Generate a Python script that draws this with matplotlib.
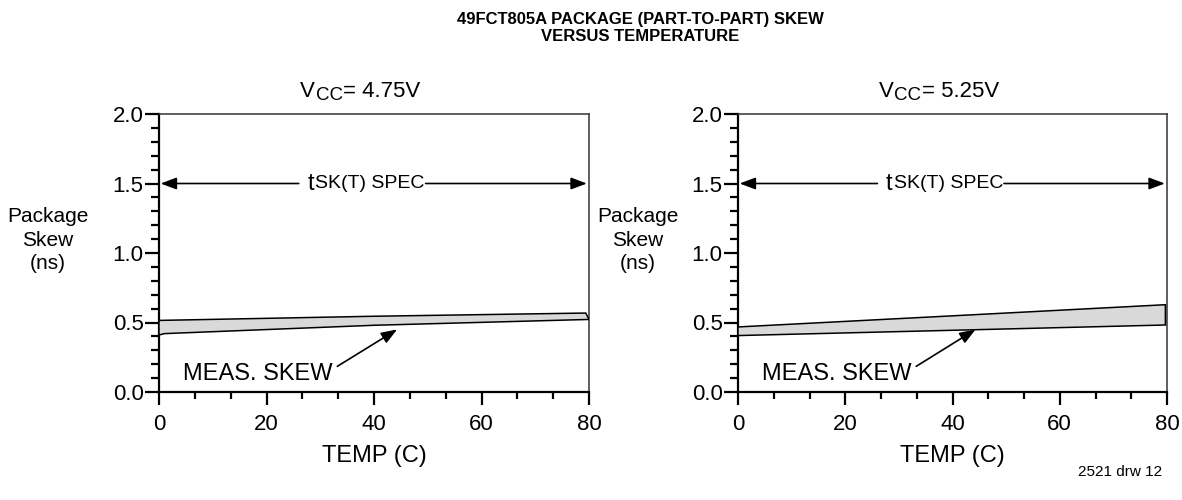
import matplotlib
matplotlib.use("Agg")
import matplotlib.pyplot as plt
from matplotlib.ticker import MultipleLocator

plt.rcParams['font.family'] = ['Liberation Sans', 'DejaVu Sans']

# ---- data ----
temp_ticks = [0, 20, 40, 60, 80]
skew_ticks = [0.0, 0.5, 1.0, 1.5, 2.0]
spec_x = [0, 80]
spec_level = 1.5

vcc_labels = ["4.75V", "5.25V"]
# measured skew band (upper and lower edges)
upper_x_1 = [0, 40, 79.4]
upper_y_1 = [0.515, 0.545, 0.568]
lower_x_1 = [0, 1, 40, 80]
lower_y_1 = [0.41, 0.42, 0.48, 0.522]

upper_x_2 = [0, 40, 79.7]
upper_y_2 = [0.468, 0.548, 0.628]
lower_x_2 = [0, 40, 79.7]
lower_y_2 = [0.406, 0.444, 0.482]

bands = [(upper_x_1, upper_y_1, lower_x_1, lower_y_1),
         (upper_x_2, upper_y_2, lower_x_2, lower_y_2)]

W, H = 1182, 500
fig = plt.figure(figsize=(W / 100, H / 100), dpi=100)

ax_px = [(159, 589), (738, 1167)]
ylabel_px = [48, 638]
top_px, bot_px = 114, 392

for i, ((x0, x1), (ux, uy, lx, ly)) in enumerate(zip(ax_px, bands)):
    ax = fig.add_axes([x0 / W, 1 - bot_px / H, (x1 - x0) / W, (bot_px - top_px) / H])
    ax.set_xlim(0, 80)
    ax.set_ylim(0, 2.0)
    ax.set_xticks(temp_ticks)
    ax.set_xticklabels([str(t) for t in temp_ticks])
    ax.set_yticks(skew_ticks)
    ax.set_yticklabels([f"{v:.1f}" for v in skew_ticks])
    ax.xaxis.set_minor_locator(MultipleLocator(20 / 3))
    ax.yaxis.set_minor_locator(MultipleLocator(0.1))
    ax.tick_params(axis='y', which='major', direction='out', length=10, width=1.6,
                   labelsize=16, pad=1, colors='black')
    ax.tick_params(axis='y', which='minor', direction='out', length=5.5, width=1.6)
    ax.tick_params(axis='x', which='major', direction='out', length=9, width=1.6,
                   labelsize=16, pad=7)
    ax.tick_params(axis='x', which='minor', direction='out', length=5, width=1.6)
    for s in ['left', 'bottom']:
        ax.spines[s].set_linewidth(1.6)
        ax.spines[s].set_color('black')
    for s in ['top', 'right']:
        ax.spines[s].set_linewidth(1.1)
        ax.spines[s].set_color('#333333')

    # band
    px = list(ux) + list(lx[::-1])
    py = list(uy) + list(ly[::-1])
    ax.fill(px, py, facecolor='#d9d9d9', edgecolor='black', linewidth=1.1, zorder=3)

    ax.set_xlabel("TEMP (C)", fontsize=17, labelpad=7)

    # y label
    fig.text(ylabel_px[i] / W, 1 - 240 / H, "Package\nSkew\n(ns)",
             ha='center', va='center', fontsize=15, linespacing=1.3)

    # Vcc title
    tv = ax.text(0.328, 1.042, "V", transform=ax.transAxes, fontsize=16,
                 ha='left', va='bottom')
    ax.annotate("CC", xy=(1, 0), xycoords=tv, xytext=(0.5, -1.5),
                textcoords='offset points', fontsize=13.5, ha='left', va='bottom')
    ax.annotate("= " + vcc_labels[i], xy=(1, 0), xycoords=tv, xytext=(20.5, 0),
                textcoords='offset points', fontsize=16, ha='left', va='bottom')

    # spec arrow
    tt = ax.text(0.345, spec_level, "t", transform=ax.get_yaxis_transform(),
                 fontsize=17, ha='left', va='center')
    ax.annotate("SK(T) SPEC", xy=(1, 0), xycoords=tt, xytext=(1, 2),
                textcoords='offset points', fontsize=14, ha='left', va='bottom')
    ap = dict(arrowstyle='-|>,head_length=0.8,head_width=0.3', color='black',
              lw=1.2, shrinkA=0, shrinkB=0, mutation_scale=12)
    ax.annotate("", xy=(spec_x[0] + 0.3, spec_level), xytext=(26.0, spec_level),
                arrowprops=ap)
    ax.annotate("", xy=(spec_x[1] - 0.4, spec_level), xytext=(49.6, spec_level),
                arrowprops=ap)

    # meas skew label
    ax.annotate("MEAS. SKEW", xy=(44.3, 0.45), xytext=(4.4, 0.13),
                fontsize=17, ha='left', va='center',
                arrowprops=dict(arrowstyle='-|>,head_length=0.8,head_width=0.3',
                                color='black', lw=1.2, shrinkA=2, shrinkB=0,
                                mutation_scale=12, relpos=(1.0, 0.7)))

fig.text(640 / W, 1 - 28 / H, "49FCT805A PACKAGE (PART-TO-PART) SKEW\nVERSUS TEMPERATURE",
         ha='center', va='center', fontsize=12, fontweight='bold', linespacing=1.1)
fig.text(1162 / W, 1 - 472 / H, "2521 drw 12", ha='right', va='center', fontsize=11)

fig.savefig("out.png", dpi=100)
